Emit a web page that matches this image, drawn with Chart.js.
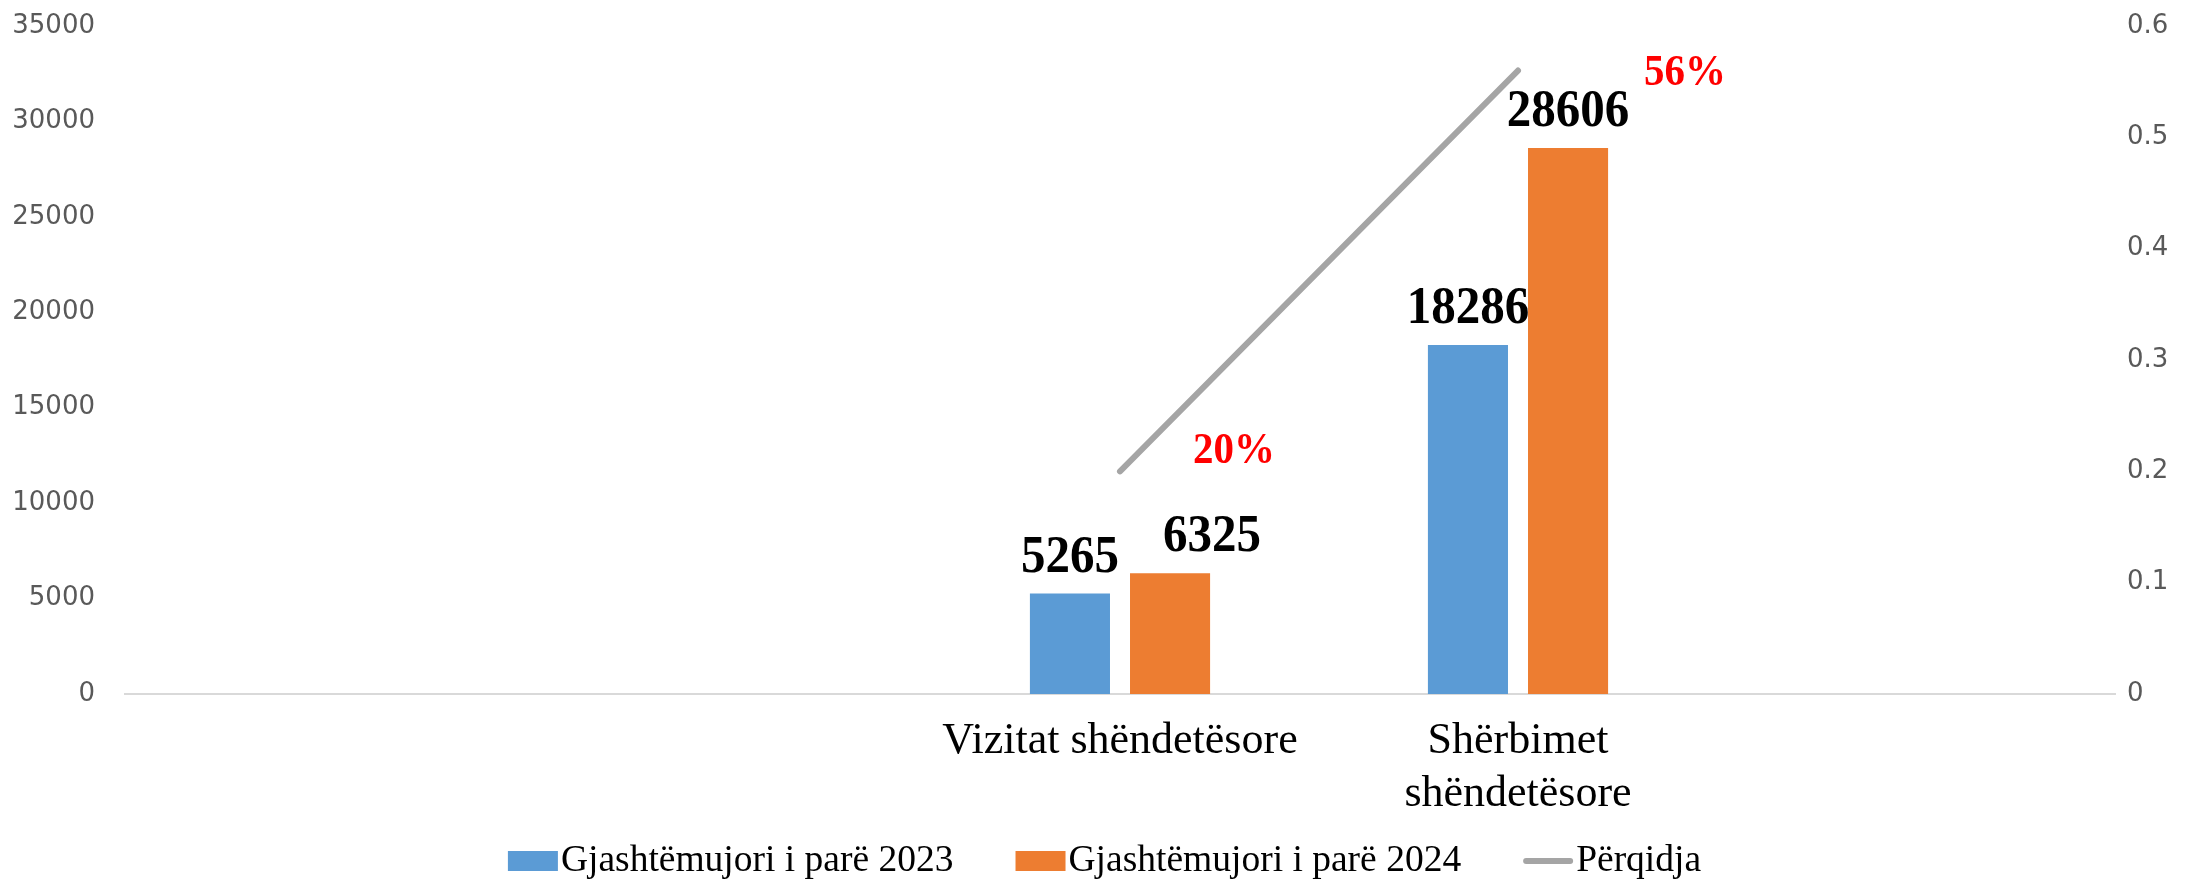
<!DOCTYPE html>
<html>
<head>
<meta charset="utf-8">
<script src="https://cdn.jsdelivr.net/npm/chart.js@4.4.0/dist/chart.umd.min.js"></script>
<style>
html,body{margin:0;padding:0;background:#ffffff;}
#wrap{width:2193px;height:882px;}
</style>
</head>
<body>
<div id="wrap"><canvas id="c" width="2193" height="882"></canvas></div>
<script>
// ---- data ----
const categories = ["", "", "Vizitat shëndetësore", ["Shërbimet", "shëndetësore"], ""];
const seriesNames = ["Gjashtëmujori i parë 2023", "Gjashtëmujori i parë 2024", "Përqidja"];
const values2023 = [null, null, 5265, 18286, null];
const values2024 = [null, null, 6325, 28606, null];
const averageChange = [null, null, 0.2, 0.56, null];
const changeLabels = ["", "", "20%", "56%", ""];
const leftTicks = [0, 5000, 10000, 15000, 20000, 25000, 30000, 35000];
const rightTicks = [0, 0.1, 0.2, 0.3, 0.4, 0.5, 0.6];

const SERIF = "'Liberation Serif', 'Times New Roman', serif";
const SANS = "'DejaVu Sans', Verdana, sans-serif";

function stretchedText(ctx, txt, x, y, sy) {
  ctx.save();
  ctx.translate(x, y);
  ctx.scale(1, sy);
  ctx.fillText(txt, 0, 0);
  ctx.restore();
}

const valueLabelPlugin = {
  id: 'valueLabels',
  afterDatasetsDraw(chart, args, opts) {
    const ctx = chart.ctx;
    ctx.save();
    chart.data.datasets.forEach((ds, di) => {
      const meta = chart.getDatasetMeta(di);
      if (ds.type === 'line') {
        ctx.font = 'bold ' + opts.pctSize + 'px ' + SERIF;
        ctx.fillStyle = opts.pctColor;
        ctx.textAlign = 'center';
        ctx.textBaseline = 'alphabetic';
        meta.data.forEach((pt, i) => {
          const txt = changeLabels[i];
          if (!txt || ds.data[i] == null) return;
          const off = opts.pctOffsets[i] || [0, 0];
          stretchedText(ctx, txt, pt.x + off[0], pt.y + off[1], opts.stretch);
        });
      } else {
        ctx.font = 'bold ' + opts.valueSize + 'px ' + SERIF;
        ctx.fillStyle = '#000000';
        ctx.textAlign = 'center';
        ctx.textBaseline = 'alphabetic';
        meta.data.forEach((bar, i) => {
          const v = ds.data[i];
          if (v == null) return;
          const sh = ((opts.barShift[di] || [])[i]) || 0;
          stretchedText(ctx, String(v), bar.x + sh, bar.y - opts.barGap, opts.stretch);
        });
      }
    });
    ctx.restore();
  }
};

const legendPlugin = {
  id: 'bottomLegend',
  afterDraw(chart, args, opts) {
    const ctx = chart.ctx;
    ctx.save();
    ctx.font = opts.fontSize + 'px ' + SERIF;
    const items = chart.data.datasets.map(ds => ({
      label: ds.label,
      color: ds.type === 'line' ? ds.borderColor : ds.backgroundColor,
      isLine: ds.type === 'line'
    }));
    const widths = items.map(it => opts.symbolWidth + opts.textGap + ctx.measureText(it.label).width);
    const total = widths.reduce((a, b) => a + b, 0) + opts.itemGap * (items.length - 1);
    let x = (chart.width - total) / 2 + opts.shiftX;
    const y = chart.height - opts.bottomOffset;
    items.forEach((it, i) => {
      if (it.isLine) {
        ctx.strokeStyle = it.color;
        ctx.lineWidth = opts.lineWidth;
        ctx.lineCap = 'round';
        ctx.beginPath();
        ctx.moveTo(x + 3, y);
        ctx.lineTo(x + opts.symbolWidth - 3, y);
        ctx.stroke();
      } else {
        ctx.fillStyle = it.color;
        ctx.fillRect(x, y - opts.boxHeight / 2, opts.symbolWidth, opts.boxHeight);
      }
      ctx.fillStyle = '#000000';
      ctx.textBaseline = 'middle';
      ctx.textAlign = 'left';
      ctx.fillText(it.label, x + opts.symbolWidth + opts.textGap, y);
      x += widths[i] + opts.itemGap;
    });
    ctx.restore();
  }
};

const fmt = v => String(Number(Number(v).toFixed(2)));

new Chart(document.getElementById('c'), {
  data: {
    labels: categories,
    datasets: [
      { type: 'bar', label: seriesNames[0], data: values2023, backgroundColor: '#5B9BD5', yAxisID: 'y', order: 2,
        categoryPercentage: 0.503, barPercentage: 0.8 },
      { type: 'bar', label: seriesNames[1], data: values2024, backgroundColor: '#ED7D31', yAxisID: 'y', order: 2,
        categoryPercentage: 0.503, barPercentage: 0.8 },
      { type: 'line', label: seriesNames[2], data: averageChange, borderColor: '#A5A5A5', backgroundColor: '#A5A5A5',
        borderWidth: 6, borderCapStyle: 'round', pointRadius: 0, pointHoverRadius: 0, yAxisID: 'y1', order: 1, tension: 0 }
    ]
  },
  options: {
    responsive: false,
    devicePixelRatio: 1,
    animation: false,
    layout: { padding: { top: 26, bottom: 0, left: 0, right: 0 } },
    plugins: {
      legend: { display: false },
      tooltip: { enabled: false },
      valueLabels: {
        valueSize: 49, barGap: 22, barShift: { 1: [0, 0, 42, 0, 0] }, stretch: 1.08,
        pctSize: 41, pctColor: '#FF0000', pctOffsets: [null, null, [114, -8], [167, 14], null]
      },
      bottomLegend: {
        fontSize: 37.5, symbolWidth: 50, boxHeight: 20, textGap: 3, itemGap: 62,
        lineWidth: 6, bottomOffset: 21, shiftX: 8
      }
    },
    scales: {
      x: {
        type: 'category',
        offset: true,
        grid: { display: false, drawTicks: false },
        border: { display: true, color: '#D9D9D9', width: 2 },
        ticks: { font: { family: SERIF, size: 44, lineHeight: 1.2 }, color: '#000000', padding: 21, maxRotation: 0, autoSkip: false },
        afterFit: s => { s.height = 188; }
      },
      y: {
        position: 'left',
        min: 0, max: 35000,
        grid: { display: false, drawTicks: false },
        border: { display: false },
        afterBuildTicks: s => { s.ticks = leftTicks.map(v => ({ value: v })); },
        ticks: { font: { family: SANS, size: 26 }, color: '#595959', padding: 30, callback: v => fmt(v) },
        afterFit: s => { s.width = 125; s.paddingTop = 0; s.paddingBottom = 0; }
      },
      y1: {
        position: 'right',
        min: 0, max: 0.6,
        grid: { display: false, drawTicks: false },
        border: { display: false },
        afterBuildTicks: s => { s.ticks = rightTicks.map(v => ({ value: v })); },
        ticks: { font: { family: SANS, size: 26 }, color: '#595959', padding: 12, callback: v => fmt(v) },
        afterFit: s => { s.width = 78; s.paddingTop = 0; s.paddingBottom = 0; }
      }
    }
  },
  plugins: [valueLabelPlugin, legendPlugin]
});
</script>
</body>
</html>
